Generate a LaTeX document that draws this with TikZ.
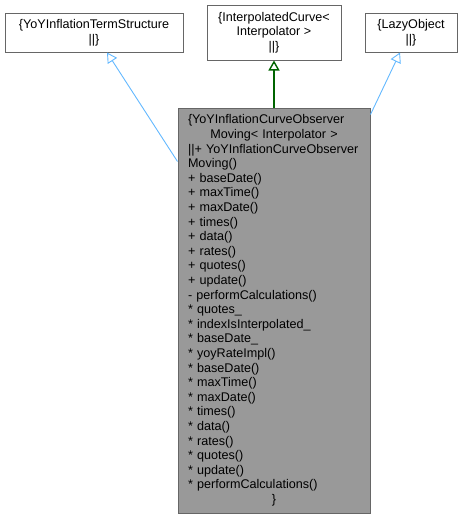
\documentclass[tikz,border=0pt]{standalone}
\usepackage{fontspec}
\setmainfont{Liberation Sans}
\usepackage{xcolor}
\usepackage{tikz}
\usetikzlibrary{arrows.meta}
\definecolor{edgeblue}{HTML}{63B8FF}
\definecolor{edgegreen}{HTML}{006400}
\definecolor{boxline}{HTML}{666666}
\definecolor{boxgrey}{HTML}{999999}
\newcommand{\ctrline}[1]{\leavevmode\null\nobreak\hfill#1\nobreak\hfill\null}
\hyphenpenalty=10000
\exhyphenpenalty=10000

\begin{document}
\begin{tikzpicture}[
  x=1pt, y=1pt,
  font=\fontsize{12.6}{14.6}\selectfont,
  classbox/.style={draw=boxline, line width=1pt, fill=white, align=center, inner sep=0pt},
  mainbox/.style={classbox, fill=boxgrey, align=left, text width=172pt},
  inh/.style={-{Triangle[open, length=10pt, width=11pt]}, line width=0.9pt},
  pubarr/.style={inh, edgeblue},
  protarr/.style={inh, edgegreen, line width=1.4pt}
]
\useasboundingbox (0,0) rectangle (463,-520);
% ----- base classes, top row -----
\node[classbox, minimum width=178pt, minimum height=39pt] (termstruct) at (94,-32.5)
  {\{YoYInflationTermStructure\\||\}};
\node[classbox, minimum width=134pt, minimum height=55pt] (interpcurve) at (274,-32.5)
  {\{InterpolatedCurve<\\Interpolator >\\||\}};
\node[classbox, minimum width=92pt, minimum height=39pt] (lazyobj) at (411,-32.5)
  {\{LazyObject\\||\}};
% ----- derived class -----
\node[mainbox, minimum width=192pt, minimum height=405pt] (observer) at (274,-310.5)
  {\{YoYInflationCurveObserver\\
   \ctrline{Moving< Interpolator >}\\
   ||+ YoYInflationCurveObserver\\
   Moving()\\
   + baseDate()\\
   + maxTime()\\
   + maxDate()\\
   + times()\\
   + data()\\
   + rates()\\
   + quotes()\\
   + update()\\
   - performCalculations()\\
   {*} quotes\_\\
   {*} indexIsInterpolated\_\\
   {*} baseDate\_\\
   {*} yoyRateImpl()\\
   {*} baseDate()\\
   {*} maxTime()\\
   {*} maxDate()\\
   {*} times()\\
   {*} data()\\
   {*} rates()\\
   {*} quotes()\\
   {*} update()\\
   {*} performCalculations()\\
   \ctrline{\}}};
% ----- inheritance edges -----
\draw[pubarr] ([yshift=-54pt]observer.north west) -- ([xshift=13pt]termstruct.south);
\draw[protarr] (observer.north) -- (interpcurve.south);
\draw[pubarr] ([yshift=-7pt]observer.north east) -- ([xshift=-11pt]lazyobj.south);
\end{tikzpicture}
\end{document}
